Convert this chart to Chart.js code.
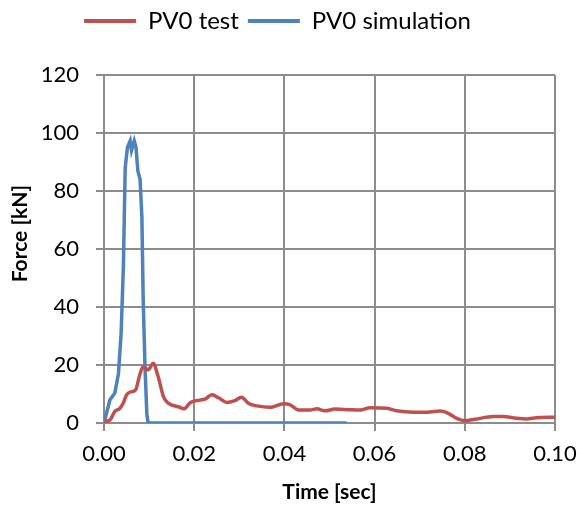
<!DOCTYPE html>
<html>
<head>
<meta charset="utf-8">
<script src="https://cdn.jsdelivr.net/npm/chart.js@4.4.1/dist/chart.umd.min.js"></script>
<style>
  html, body { margin: 0; padding: 0; background: #fff; }
  #wrap { width: 580px; height: 505px; }
</style>
</head>
<body>
<div id="wrap"><canvas id="forceChart" width="580" height="505"></canvas></div>
<script>
// Dati: tempo [sec] e forza [kN]
const testTime = [0, 0.0013, 0.0024, 0.0035, 0.0043, 0.005, 0.0061, 0.007, 0.008, 0.0087, 0.0098, 0.0109, 0.012, 0.0132, 0.0143, 0.0165, 0.0178, 0.0191, 0.0213, 0.0224, 0.0239, 0.0255, 0.0272, 0.029, 0.0305, 0.032, 0.0339, 0.0368, 0.0398, 0.0412, 0.0431, 0.0457, 0.0472, 0.049, 0.0512, 0.0545, 0.0568, 0.059, 0.0627, 0.0649, 0.0686, 0.0723, 0.0745, 0.076, 0.0782, 0.08, 0.0823, 0.0863, 0.0885, 0.0915, 0.0937, 0.0959, 0.1];
const testForce = [0.5, 1, 4, 5, 7, 9.7, 10.8, 11.4, 17, 19.4, 18.3, 20.6, 16, 9, 6.8, 5.6, 4.9, 7, 7.9, 8.2, 9.7, 8.6, 7.1, 7.7, 8.9, 6.8, 5.9, 5.4, 6.6, 6.3, 4.5, 4.5, 4.9, 4.2, 4.8, 4.6, 4.5, 5.3, 5.1, 4.2, 3.7, 3.8, 4.1, 3.6, 1.6, 0.8, 1.3, 2.2, 2.2, 1.6, 1.4, 1.8, 2.0];

const simTime = [0, 0.0002, 0.0013, 0.0024, 0.0032, 0.0038, 0.0043, 0.0047, 0.0052, 0.0058, 0.0061, 0.0067, 0.0071, 0.0075, 0.008, 0.0084, 0.0087, 0.0091, 0.0095, 0.0098, 0.0538];
const simForce = [0, 0, 7.9, 10.3, 17, 31, 54, 88, 95, 97.3, 94, 97.3, 95, 87, 84, 71, 42, 19, 3, 0, 0];

const xTicks = [0, 0.02, 0.04, 0.06, 0.08, 0.10];
const yTicks = [0, 20, 40, 60, 80, 100, 120];

const RED = '#C0504D';
const BLUE = '#4F81BD';
const GRID = '#8c8c8c';
const FONT = 'Lato, "Liberation Sans", sans-serif';
const PLOT_TOP = 75; // dove inizia l'area del grafico

const toPoints = (xs, ys) => xs.map((x, i) => ({ x: x, y: ys[i] }));

// allunga la legenda in basso così l'area del grafico parte più in giù
const legendGap = {
    id: 'legendGap',
    beforeUpdate(chart) {
        const lg = chart.legend;
        if (lg && !lg._gapPatched) {
            const fit = lg.fit;
            lg.fit = function () {
                fit.call(this);
                this.height = Math.max(this.height, PLOT_TOP);
            };
            lg._gapPatched = true;
        }
    }
};

const data = {
    datasets: [{
        label: 'PV0 test',
        data: toPoints(testTime, testForce),
        borderColor: RED,
        backgroundColor: RED,
        borderWidth: 3.5,
        pointRadius: 0,
        cubicInterpolationMode: 'monotone'
    }, {
        label: 'PV0 simulation',
        data: toPoints(simTime, simForce),
        borderColor: BLUE,
        backgroundColor: BLUE,
        borderWidth: 3.5,
        pointRadius: 0,
        tension: 0
    }]
};

const config = {
    type: 'line',
    data: data,
    plugins: [legendGap],
    options: {
        responsive: false,
        animation: false,
        layout: { padding: { top: 0, right: 25, left: 0, bottom: 0 } },
        plugins: {
            tooltip: { enabled: false },
            legend: {
                position: 'top',
                labels: {
                    color: '#000',
                    font: { family: FONT, size: 24 },
                    boxWidth: 52,
                    boxHeight: 4,
                    padding: 9,
                    generateLabels: chart => Chart.defaults.plugins.legend.labels.generateLabels(chart)
                        .map(item => Object.assign(item, { lineWidth: 0 }))
                }
            }
        },
        scales: {
            x: {
                type: 'linear',
                min: 0,
                max: 0.1,
                afterBuildTicks: scale => { scale.ticks = xTicks.map(v => ({ value: v })); },
                afterFit: scale => {
                    scale.height = 82;
                    scale.paddingLeft = 0;
                    scale.paddingRight = 0;
                },
                ticks: {
                    color: '#000',
                    font: { family: FONT, size: 22 },
                    padding: 10,
                    maxRotation: 0,
                    callback: v => v.toFixed(2)
                },
                grid: { color: GRID, lineWidth: 2, tickLength: 8 },
                border: { color: GRID, width: 2 },
                title: {
                    display: true,
                    text: 'Time [sec]',
                    color: '#000',
                    font: { family: FONT, size: 21, weight: 'bold' },
                    padding: { top: 4, bottom: 0 }
                }
            },
            y: {
                min: 0,
                max: 120,
                afterBuildTicks: scale => { scale.ticks = yTicks.map(v => ({ value: v })); },
                afterFit: scale => { scale.width = 104; },
                ticks: {
                    color: '#000',
                    font: { family: FONT, size: 22 },
                    padding: 17
                },
                grid: { color: GRID, lineWidth: 2, tickLength: 8 },
                border: { color: GRID, width: 2 },
                title: {
                    display: true,
                    // spazi iniziali: il titolo sta un po' più in alto del centro, come nell'originale
                    text: '      Force [kN]',
                    color: '#000',
                    font: { family: FONT, size: 21, weight: 'bold' },
                    padding: { top: 8, bottom: 0 }
                }
            }
        }
    }
};

const forceChart = new Chart(document.getElementById('forceChart'), config);
</script>
</body>
</html>
